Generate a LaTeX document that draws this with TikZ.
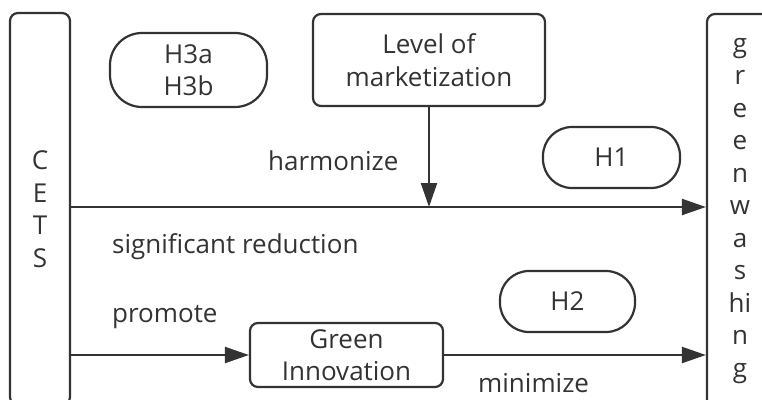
\documentclass[tikz,border=0pt]{standalone}
\usepackage{fontspec}
\setmainfont{Open Sans}
\usetikzlibrary{arrows.meta}
\definecolor{ink}{HTML}{333333}
\begin{document}
\begin{tikzpicture}[x=1pt,y=-1pt,
  font=\fontsize{26}{32.5}\selectfont, text=ink,
  box/.style={draw=ink, line width=2.2pt, rounded corners=8pt, inner sep=0pt, align=center},
  pill/.style={draw=ink, line width=2.2pt, rounded corners=29pt, inner sep=0pt, align=center},
  conn/.style={draw=ink, line width=2.2pt, -{Triangle[length=24pt,width=16pt]}},
  lbl/.style={inner sep=0pt, anchor=base west}]
\useasboundingbox (0,0) rectangle (762,399);
\clip (0,0) rectangle (762,399);
\node[box, minimum width=60pt, minimum height=392pt] (cets) at (40,209) {C\\E\\T\\S};
\node[box, minimum width=66pt, minimum height=394pt] (gw) at (740,211) {g\\r\\e\\e\\n\\w\\a\\s\\hi\\n\\g};
\node[pill, rounded corners=32pt, minimum width=157pt, minimum height=74pt] (h3) at (188.5,70) {H3a\\H3b};
\node[box, minimum width=232pt, minimum height=92pt] (level) at (429,60) {Level of\\marketization};
\node[pill, minimum width=137pt, minimum height=61pt] (h1) at (611.5,157.5) {H1};
\node[pill, minimum width=135pt, minimum height=61pt] (h2) at (567.5,301.5) {H2};
\node[box, minimum width=193pt, minimum height=64pt] (gi) at (346.5,355) {Green\\Innovation};
\coordinate (mainy) at (0,207);
\draw[conn] (cets.east |- mainy) -- (gw.west |- mainy);
\draw[conn] (level.south) -- (level.south |- mainy);
\draw[conn] (cets.east |- gi.west) -- (gi.west);
\draw[conn] (gi.east) -- (gw.west |- gi.east);
\node[lbl] (harm) at (268,170) {harmonize};
\node[lbl] (sig) at (112,253) {significant reduction};
\node[lbl] (prom) at (112,322) {promote};
\node[lbl] (mini) at (478,392) {minimize};
\end{tikzpicture}
\end{document}
